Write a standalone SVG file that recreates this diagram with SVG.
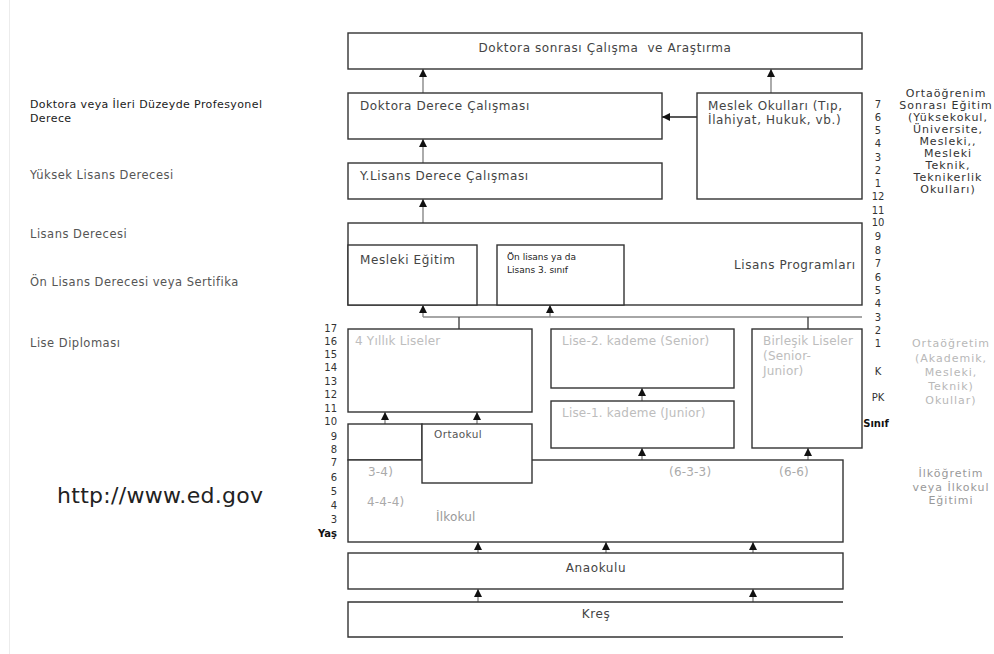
<svg xmlns="http://www.w3.org/2000/svg" width="994" height="654" viewBox="0 0 994 654">
<style>
text{font-family:"DejaVu Sans","Liberation Sans",sans-serif;}
.box{fill:#fff;stroke:#333;stroke-width:1.4;}
.t{font-size:12px;letter-spacing:0.6px;fill:#444;}
.lt{font-size:12px;letter-spacing:0.2px;fill:#bdbdbd;}
.sm{font-size:9px;fill:#222;}
.lab{font-size:11.5px;letter-spacing:0.5px;fill:#555;}
.num{font-size:10px;fill:#333;}
.rc{font-size:11px;letter-spacing:1px;text-anchor:middle;}
.c{stroke:#888;stroke-width:1.4;fill:none;}
.a{marker-end:url(#ah);}
</style>
<defs>
<marker id="ah" markerUnits="userSpaceOnUse" markerWidth="8" markerHeight="8" refX="8" refY="4" orient="auto">
<path d="M0,0 L8,4 L0,8 Z" fill="#111"/>
</marker>
</defs>
<rect width="994" height="654" fill="#fff"/>
<line x1="9.5" y1="0" x2="9.5" y2="654" stroke="#ececec" stroke-width="1"/>

<g id="left-labels">
<text x="30" y="108" font-size="11" letter-spacing="0.4" fill="#1a1a1a">Doktora veya İleri Düzeyde Profesyonel</text>
<text x="30" y="122" font-size="11" letter-spacing="0.4" fill="#1a1a1a">Derece</text>
<text class="lab" x="30" y="179">Yüksek Lisans Derecesi</text>
<text class="lab" x="30" y="238">Lisans Derecesi</text>
<text class="lab" x="30" y="286">Ön Lisans Derecesi veya Sertifika</text>
<text class="lab" x="30" y="347" fill="#c4c4c4">Lise Diploması</text>
<text x="57" y="503" font-size="22" letter-spacing="0.3" fill="#222">http://www.ed.gov</text>
</g>

<g id="connectors">
<line class="c a" x1="423" y1="93" x2="423" y2="69"/>
<line class="c a" x1="771" y1="93" x2="771" y2="69"/>
<line class="c a" x1="697" y1="117" x2="662" y2="117" style="stroke:#222"/>
<line class="c a" x1="423" y1="163" x2="423" y2="139"/>
<line class="c a" x1="423" y1="223" x2="423" y2="199"/>
<line class="c a" x1="423" y1="245" x2="423" y2="223"/>
<line class="c a" x1="550" y1="245" x2="550" y2="223"/>
<line class="c" x1="423" y1="317" x2="862" y2="317"/>
<line class="c a" x1="423" y1="317" x2="423" y2="305"/>
<line class="c a" x1="550" y1="317" x2="550" y2="305"/>
<line class="c" x1="459" y1="329" x2="459" y2="317" style="stroke:#444"/>
<line class="c" x1="808" y1="329" x2="808" y2="317" style="stroke:#444"/>
<line class="c a" x1="385" y1="424" x2="385" y2="412"/>
<line class="c a" x1="477" y1="424" x2="477" y2="412"/>
<line class="c a" x1="642" y1="401" x2="642" y2="388"/>
<line class="c a" x1="642" y1="460" x2="642" y2="448"/>
<line class="c a" x1="808" y1="460" x2="808" y2="448"/>
<line class="c a" x1="478" y1="553" x2="478" y2="542"/>
<line class="c a" x1="606" y1="553" x2="606" y2="542"/>
<line class="c a" x1="753" y1="553" x2="753" y2="542"/>
<line class="c a" x1="478" y1="602" x2="478" y2="589"/>
<line class="c a" x1="753" y1="602" x2="753" y2="589"/>
</g>

<g id="doktora-sonrasi">
<rect class="box" x="348" y="33" width="514" height="36"/>
<text class="t" x="605" y="52" text-anchor="middle" style="white-space:pre">Doktora sonrası Çalışma  ve Araştırma</text>
</g>
<g id="doktora-derece">
<rect class="box" x="348" y="93" width="314" height="46"/>
<text class="t" x="360" y="110">Doktora Derece Çalışması</text>
</g>
<g id="meslek-okullari">
<rect class="box" x="697" y="93" width="165" height="106"/>
<text class="t" x="708" y="110">Meslek Okulları (Tıp,</text>
<text class="t" x="708" y="124">İlahiyat, Hukuk, vb.)</text>
</g>
<g id="ylisans">
<rect class="box" x="348" y="163" width="314" height="36"/>
<text class="t" x="360" y="180">Y.Lisans Derece Çalışması</text>
</g>
<g id="lisans-programlari">
<rect class="box" x="348" y="223" width="514" height="82"/>
<text class="t" x="734" y="269">Lisans Programları</text>
</g>
<g id="mesleki-egitim">
<rect class="box" x="348" y="245" width="129" height="60"/>
<text class="t" x="360" y="264">Mesleki Eğitim</text>
</g>
<g id="on-lisans">
<rect class="box" x="497" y="245" width="127" height="60"/>
<text class="sm" x="507" y="260">Ön lisans ya da</text>
<text class="sm" x="507" y="273">Lisans 3. sınıf</text>
</g>
<g id="dort-yillik">
<rect class="box" x="348" y="329" width="184" height="83"/>
<text class="lt" x="355" y="345">4 Yıllık Liseler</text>
</g>
<g id="lise2">
<rect class="box" x="551" y="329" width="183" height="59"/>
<text class="lt" x="562" y="345">Lise-2. kademe (Senior)</text>
</g>
<g id="lise1">
<rect class="box" x="551" y="401" width="183" height="47"/>
<text class="lt" x="562" y="417">Lise-1. kademe (Junior)</text>
</g>
<g id="birlesik">
<rect class="box" x="752" y="329" width="110" height="119"/>
<text class="lt" x="763" y="345" letter-spacing="0">Birleşik Liseler</text>
<text class="lt" x="763" y="360">(Senior-</text>
<text class="lt" x="763" y="375">Junior)</text>
</g>
<g id="ilkokul">
<rect class="box" x="348" y="424" width="74" height="36"/>
<rect class="box" x="348" y="460" width="495" height="82"/>
<text class="lt" x="368" y="476" style="fill:#aaa">3-4)</text>
<text class="lt" x="669" y="476" style="fill:#aaa">(6-3-3)</text>
<text class="lt" x="779" y="476" style="fill:#aaa">(6-6)</text>
<text class="lt" x="367" y="506" style="fill:#aaa">4-4-4)</text>
<text class="lt" x="436" y="521" style="fill:#999">İlkokul</text>
</g>
<g id="ortaokul">
<rect class="box" x="422" y="424" width="110" height="59"/>
<text x="434" y="438" font-size="10.5" letter-spacing="0.4" fill="#555">Ortaokul</text>
</g>
<g id="anaokulu">
<rect class="box" x="348" y="553" width="495" height="36"/>
<text class="t" x="596" y="572" text-anchor="middle">Anaokulu</text>
</g>
<g id="kres">
<path d="M843,602 H348 V637 H843" fill="#fff" stroke="#333" stroke-width="1.4"/>
<text class="t" x="596" y="618" text-anchor="middle">Kreş</text>
</g>

<g id="age-numbers" class="num" text-anchor="end">
<text x="337" y="332">17</text><text x="337" y="345">16</text><text x="337" y="358">15</text>
<text x="337" y="371">14</text><text x="337" y="385">13</text><text x="337" y="398">12</text>
<text x="337" y="412">11</text><text x="337" y="425">10</text><text x="337" y="440">9</text>
<text x="337" y="453">8</text><text x="337" y="466">7</text><text x="337" y="481">6</text>
<text x="337" y="495">5</text><text x="337" y="509">4</text><text x="337" y="523">3</text>
<text x="337" y="537" font-weight="bold" fill="#111">Yaş</text>
</g>

<g id="grade-numbers" class="num" text-anchor="middle">
<text x="878" y="108">7</text><text x="878" y="121">6</text><text x="878" y="134">5</text>
<text x="878" y="147">4</text><text x="878" y="161">3</text><text x="878" y="174">2</text>
<text x="878" y="187">1</text><text x="878" y="200">12</text><text x="878" y="214">11</text>
<text x="878" y="226">10</text><text x="878" y="240">9</text><text x="878" y="254">8</text>
<text x="878" y="267">7</text><text x="878" y="281">6</text><text x="878" y="294">5</text>
<text x="878" y="307">4</text><text x="878" y="321">3</text><text x="878" y="334">2</text>
<text x="878" y="347">1</text><text x="878" y="375">K</text><text x="878" y="401">PK</text>
<text x="876" y="427" font-weight="bold" fill="#111">Sınıf</text>
</g>

<g id="right-labels">
<g class="rc" fill="#333">
<text x="946" y="97">Ortaöğrenim</text>
<text x="946" y="109">Sonrası Eğitim</text>
<text x="948" y="121">(Yüksekokul,</text>
<text x="948" y="133">Üniversite,</text>
<text x="948" y="145">Mesleki,,</text>
<text x="948" y="157">Mesleki</text>
<text x="948" y="169">Teknik,</text>
<text x="948" y="181">Teknikerlik</text>
<text x="948" y="193">Okulları)</text>
</g>
<g class="rc" fill="#b8b8b8">
<text x="951" y="347">Ortaöğretim</text>
<text x="951" y="362">(Akademik,</text>
<text x="951" y="376">Mesleki,</text>
<text x="951" y="390">Teknik)</text>
<text x="951" y="404">Okullar)</text>
</g>
<g class="rc" fill="#999">
<text x="951" y="477">İlköğretim</text>
<text x="951" y="491">veya İlkokul</text>
<text x="951" y="504">Eğitimi</text>
</g>
</g>
</svg>
